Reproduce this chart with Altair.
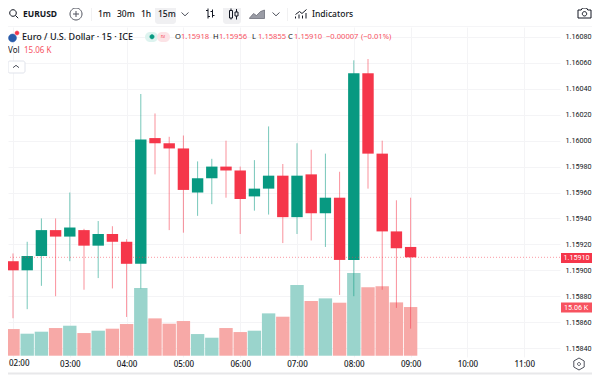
import altair as alt
import pandas as pd

times = ["02:00","02:15","02:30","02:45","03:00","03:15","03:30","03:45","04:00","04:15",
         "04:30","04:45","05:00","05:15","05:30","05:45","06:00","06:15","06:30","06:45",
         "07:00","07:15","07:30","07:45","08:00","08:15","08:30","08:45","09:00"]
opens = [1.15907,1.15900,1.15911,1.15931,1.15926,1.15931,1.15919,1.15928,1.15922,1.15905,
         1.16002,1.15998,1.15994,1.15960,1.15971,1.15980,1.15977,1.15957,1.15963,1.15973,
         1.15941,1.15974,1.15944,1.15956,1.15908,1.16052,1.15990,1.15930,1.15918]
highs = [1.15913,1.15922,1.15940,1.15940,1.15960,1.15932,1.15938,1.15934,1.15924,1.16036,
         1.16021,1.16003,1.16004,1.15984,1.15986,1.16000,1.15980,1.15985,1.16011,1.15982,
         1.15998,1.15993,1.15990,1.15976,1.16062,1.16063,1.16000,1.15954,1.15956]
lows = [1.15863,1.15870,1.15888,1.15880,1.15907,1.15885,1.15894,1.15886,1.15864,1.15886,
        1.15974,1.15931,1.15929,1.15942,1.15951,1.15956,1.15928,1.15946,1.15943,1.15921,
        1.15928,1.15923,1.15918,1.15881,1.15880,1.15963,1.15885,1.15871,1.15855]
closes = [1.15900,1.15911,1.15931,1.15926,1.15933,1.15919,1.15928,1.15922,1.15905,1.16001,
          1.15998,1.15994,1.15962,1.15971,1.15980,1.15977,1.15955,1.15963,1.15973,1.15941,
          1.15973,1.15944,1.15956,1.15908,1.16052,1.15990,1.15930,1.15917,1.15910]
volumes = [8.25,6.81,7.43,8.56,9.28,7.01,7.74,8.36,9.80,20.94,
           11.55,9.90,10.73,6.70,5.57,8.56,7.32,7.74,13.10,12.07,
           21.87,16.92,17.74,16.40,25.58,21.15,21.46,16.50,15.06]
price_ticks = [1.1584,1.1586,1.1588,1.1590,1.1592,1.1594,1.1596,1.1598,1.1600,1.1602,1.1604,1.1606,1.1608]
hour_ticks = [2,3,4,5,6,7,8,9,10,11]
last_price = 1.15910

GREEN = "#089981"; RED = "#F5364A"; TXT = "#131722"; SOFT = "#F7525F"
FONT = "Noto Sans"

df = pd.DataFrame({"t": times, "o": opens, "h": highs, "l": lows, "c": closes, "v": volumes})
df["hr"] = [int(s[:2]) + int(s[3:]) / 60 for s in times]
df["up"] = df["c"] >= df["o"]

xs = alt.Scale(domain=[1.912, 11.630], nice=False, zero=False, padding=0)
ys = alt.Scale(domain=[1.158331, 1.160877], nice=False, zero=False, padding=0)
vs = alt.Scale(domain=[-0.40, 101.71], nice=False, zero=False, padding=0)
x_axis = alt.Axis(
    values=hour_ticks,
    labelExpr="datum.value==2?'':(datum.value<10?'0':'')+datum.value+':00'", grid=True,
    gridColor="#F4F4F6", domain=False, ticks=False, labelPadding=3, labelFontSize=8,
    labelColor=TXT, labelFont=FONT, labelFontWeight=500)
X = alt.X("hr:Q", scale=xs, title=None, axis=x_axis)
base = alt.Chart(df)

vol = base.mark_bar(size=13.4).encode(
    x=X,
    y=alt.Y("v:Q", scale=vs, axis=None),
    y2=alt.datum(0),
    color=alt.condition(alt.datum.up, alt.value("#9AD4CC"), alt.value("#F7A9A7")),
)
wick = base.mark_rule(strokeWidth=1, opacity=0.55).encode(
    x=X,
    y=alt.Y("h:Q", scale=ys, title=None, axis=alt.Axis(
        orient="right", values=price_ticks, format=".5f", grid=True, gridColor="#F4F4F6",
        domain=False, ticks=False, labelPadding=5, labelFontSize=7.2, labelColor=TXT, labelFont="Roboto")),
    y2="l:Q",
    color=alt.condition(alt.datum.up, alt.value(GREEN), alt.value(RED)),
)
body = base.mark_bar(size=11.4).encode(
    x=X,
    y=alt.Y("o:Q", scale=ys, axis=None),
    y2="c:Q",
    color=alt.condition(alt.datum.up, alt.value(GREEN), alt.value(RED)),
)
last = alt.Chart(pd.DataFrame({"p": [last_price]})).mark_rule(
    stroke=RED, strokeWidth=1, strokeDash=[1, 2], opacity=0.5
).encode(y=alt.Y("p:Q", scale=ys, axis=None))

OX, OY = 8, 27
def txt(s, px, py, color=TXT, size=8.5, weight=400, align="left", font=FONT):
    return alt.Chart(alt.Data(values=[{"s": s}])).mark_text(
        align=align, baseline="middle", font=font, fontSize=size, fontWeight=weight, color=color
    ).encode(x=alt.value(px - OX), y=alt.value(py - OY), text="s:N")

def box(x0, x1, y0, y1, fill, stroke=None, radius=0):
    kw = {"stroke": stroke, "strokeWidth": 1} if stroke else {}
    return alt.Chart(alt.Data(values=[{"a": 1}])).mark_rect(fill=fill, cornerRadius=radius, **kw).encode(
        x=alt.value(x0 - OX), x2=alt.value(x1 - OX), y=alt.value(y0 - OY), y2=alt.value(y1 - OY))

def icon(path, cx, cy, color=TXT, sw=1.0, fill=None):
    kw = {"fill": fill, "filled": True} if fill else {"filled": False}
    return alt.Chart(alt.Data(values=[{"a": 1}])).mark_point(
        shape=path, size=400, stroke=color, strokeWidth=sw, opacity=1, **kw
    ).encode(x=alt.value(cx - OX), y=alt.value(cy - OY))

CHEV = "M-.35 -.15L0 .18L.35 -.15"
overlays = [
    # toolbar
    box(155, 176, 4, 24, "#F0F0F2", radius=3),
    box(223, 241, 4, 24, "#F0F0F2", radius=3),
    icon("M.23 -.1A.33 .33 0 1 1 -.43 -.1A.33 .33 0 1 1 .23 -.1M.13 .13L.42 .42", 14, 14),
    txt("EURUSD", 23, 14, size=8.5, weight=700),
    icon("M.6 0A.6 .6 0 1 1 -.6 0A.6 .6 0 1 1 .6 0M-.3 0H.3M0 -.3V.3", 76, 14, color="#50535E"),
    box(91, 91.6, 7, 21, "#E8E8EA"),
    txt("1m", 98, 14, size=8.5, weight=500),
    txt("30m", 117, 14, size=8.5, weight=500),
    txt("1h", 141, 14, size=8.5, weight=500),
    txt("15m", 158, 14, size=8.5, weight=500),
    icon(CHEV, 185, 14, color="#50535E"),
    icon("M-.2 -.5V.5M-.2 -.3H-.4M-.2 .3H0M.25 -.4V.4M.25 -.2H.05M.25 .2H.45", 210, 13.5),
    icon("M-.3 -.55V-.35M-.3 .4V.55M-.45 -.35H-.15V.4H-.45ZM.25 -.5V-.2M.25 .2V.55M.1 -.2H.4V.2H.1Z", 234, 14),
    icon("M-.75 .4L-.35 -.05L-.05 .15L.35 -.25L.75 -.4V.45H-.75Z", 257, 14, color="#50535E", sw=0.6, fill="#9A9CA5"),
    icon(CHEV, 276, 14, color="#50535E"),
    box(287, 287.6, 7, 21, "#E8E8EA"),
    icon("M-.55 .05L-.15 -.25L.1 -.05L.55 -.45M-.55 .45V.25M-.2 .45V.05M.15 .45V.15M.5 .45V-.1", 301, 14),
    txt("Indicators", 312, 14, size=8.5, weight=500),
    icon("M-.65 -.3H-.33L-.2 -.5H.2L.33 -.3H.65V.5H-.65ZM.22 .08A.22 .22 0 1 1 -.22 .08A.22 .22 0 1 1 .22 .08", 584.5, 13),
    # legend rows
    icon("M.4 0A.4 .4 0 1 1 -.4 0A.4 .4 0 1 1 .4 0", 12.5, 38, color="#2A5CAA", sw=0.5, fill="#2A5CAA"),
    icon("M.2 0A.2 .2 0 1 1 -.2 0A.2 .2 0 1 1 .2 0", 17, 33, color=RED, sw=0.5, fill=RED),
    txt("Euro / U.S. Dollar · 15 · ICE", 22, 36.5, size=9, weight=500),
    box(145, 158, 32, 42, "#DDF3EF", radius=5),
    box(157, 170, 32, 42, "#FCE3E6", radius=5),
    icon("M.22 0A.22 .22 0 1 1 -.22 0A.22 .22 0 1 1 .22 0", 152, 36.7, color=GREEN, sw=0.5, fill=GREEN),
    txt("≈", 163, 36.5, color=RED, size=8, align="center"),
    txt("O", 175, 36.5, size=7.6), txt("1.15918", 181, 36.5, color=SOFT, size=7.6),
    txt("H", 213, 36.5, size=7.6), txt("1.15956", 219, 36.5, color=SOFT, size=7.6),
    txt("L", 252, 36.5, size=7.6), txt("1.15855", 258, 36.5, color=SOFT, size=7.6),
    txt("C", 288, 36.5, size=7.6), txt("1.15910", 294, 36.5, color=SOFT, size=7.6),
    txt("−0.00007", 326, 36.5, color=SOFT, size=7.6), txt("(−0.01%)", 361, 36.5, color=SOFT, size=7.6),
    txt("Vol", 8, 51, size=8), txt("15.06 K", 24, 51, color=SOFT, size=8),
    box(8, 25, 61, 73, "#FFFFFF", stroke="#E0E3EB", radius=2),
    icon("M-.3 .12L0 -.12L.3 .12", 16, 66.5, color="#50535E"),
    # first hour label: its centre lies too near the page margin for the axis to fit it
    txt("02:00", 9, 363.6, size=8, weight=500),
    # price scale tags
    box(561, 595, 253, 263, RED),
    txt("1.15910", 563.5, 258, color="#FFFFFF", size=7.2, font="Roboto"),
    box(561, 594, 302.5, 312.5, SOFT),
    txt("15.06 K", 564, 307.5, color="#FFFFFF", size=7.2, font="Roboto"),
    icon("M0 -.6L.52 -.3V.3L0 .6L-.52 .3V-.3ZM.15 0A.15 .15 0 1 1 -.15 0A.15 .15 0 1 1 .15 0", 579, 364, color="#50535E"),
    # frame
    box(8, 597, 26, 26.8, "#F2F2F4"),
    box(8, 598, 372.6, 374.6, "#E8E8EA"),
]

chart = alt.layer(vol, wick, body, last, *overlays).resolve_scale(y="independent").properties(
    width=552, height=330,
    padding={"left": 0, "top": 19, "right": 32, "bottom": 18},
    autosize=alt.AutoSizeParams(type="none"),
    background="#FFFFFF",
).configure_view(stroke=None)

chart.save("out.html", embed_options={"renderer": "svg", "actions": False})
